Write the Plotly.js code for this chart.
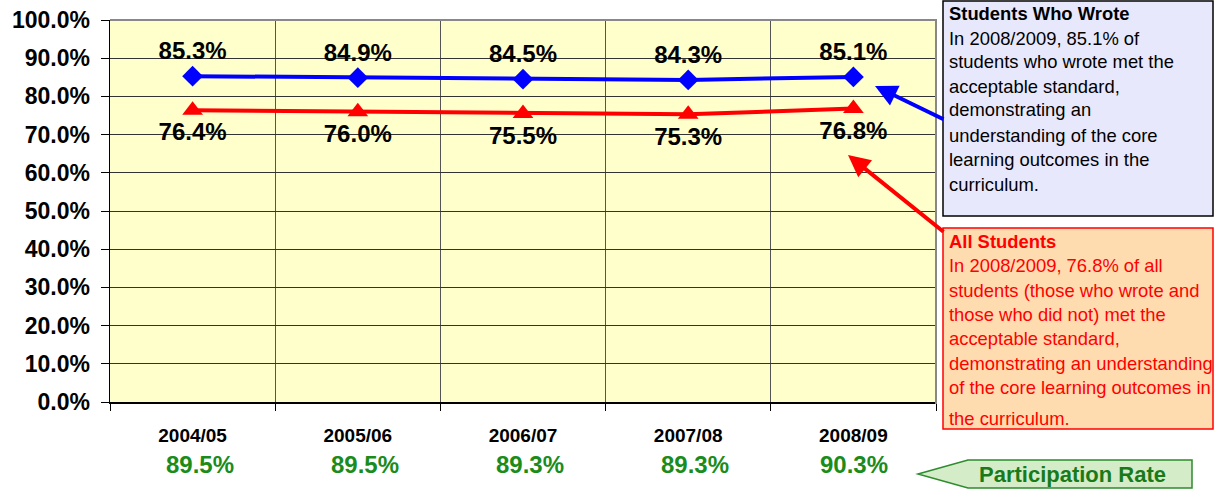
<!DOCTYPE html>
<html>
<head>
<meta charset="utf-8">
<script src="https://cdn.plot.ly/plotly-3.0.1.min.js"></script>
<style>html,body{margin:0;padding:0;background:#fff;}#chart{width:1214px;height:490px;}</style>
</head>
<body>
<div id="chart"></div>
<script>
const years = ['2004/05', '2005/06', '2006/07', '2007/08', '2008/09'];
const wroteRates = [0.853, 0.849, 0.845, 0.843, 0.851];
const allRates = [0.764, 0.760, 0.755, 0.753, 0.768];
const participation = ['89.5%', '89.5%', '89.3%', '89.3%', '90.3%'];
const wroteLines = [
  '<b>Students Who Wrote</b>',
  'In 2008/2009, 85.1% of',
  'students who wrote met the',
  'acceptable standard,',
  'demonstrating an',
  'understanding of the core',
  'learning outcomes in the',
  'curriculum.'
];
const allLines = [
  '<b>All Students</b>',
  'In 2008/2009, 76.8% of all',
  'students (those who wrote and',
  'those who did not) met the',
  'acceptable standard,',
  'demonstrating an understanding',
  'of the core learning outcomes in',
  'the curriculum.'
];
const participationLabel = 'Participation Rate';

// pixel helpers (plot area: x 110-936, y 20-402)
const L = 110, R = 936, T = 20, B = 402;
const px = x => (x - L) / (R - L);
const py = y => (B - y) / (B - T);

const FONT = 'Arial, "Liberation Sans", sans-serif';

const traces = [
  {
    x: years, y: wroteRates, type: 'scatter', mode: 'lines+markers+text',
    line: {color: '#0000ff', width: 4},
    marker: {symbol: 'diamond', size: 16, color: '#0000ff'},
    texttemplate: '%{y:.1%}', textposition: 'top center',
    textfont: {family: FONT, size: 24, color: '#000', weight: 'bold'},
    hoverinfo: 'none', cliponaxis: false
  },
  {
    x: years, y: allRates, type: 'scatter', mode: 'lines+markers+text',
    line: {color: '#ff0000', width: 4},
    marker: {symbol: 'triangle-up', size: 18, color: '#ff0000'},
    texttemplate: '%{y:.1%}', textposition: 'bottom center',
    textfont: {family: FONT, size: 24, color: '#000', weight: 'bold'},
    hoverinfo: 'none', cliponaxis: false
  }
];

const annotations = [];
const partShift = [7, 7, 7, 7, 1];
participation.forEach((p, i) => {
  annotations.push({
    x: years[i], xref: 'x', y: py(464), yref: 'paper', text: '<b>' + p + '</b>',
    showarrow: false, xanchor: 'center', yanchor: 'middle', xshift: partShift[i],
    font: {family: FONT, size: 24, color: '#1a8c1a'}
  });
});
const wroteY = [14, 38, 62, 86, 110, 135, 159, 184];
wroteLines.forEach((t, i) => {
  annotations.push({
    x: px(947), xref: 'paper', y: py(wroteY[i]), yref: 'paper', text: t,
    showarrow: false, xanchor: 'left', yanchor: 'middle', align: 'left',
    font: {family: FONT, size: 18.4, color: '#000'}
  });
});
const allY = [241, 265, 290, 314, 338, 363, 387, 418];
allLines.forEach((t, i) => {
  annotations.push({
    x: px(947), xref: 'paper', y: py(allY[i]), yref: 'paper', text: t,
    showarrow: false, xanchor: 'left', yanchor: 'middle', align: 'left',
    font: {family: FONT, size: 18.4, color: '#ff0000'}
  });
});
annotations.push({
  x: px(1072), xref: 'paper', y: py(474), yref: 'paper', text: '<b>' + participationLabel + '</b>',
  showarrow: false, xanchor: 'center', yanchor: 'middle',
  font: {family: FONT, size: 22, color: '#1a7a1a'}
});
// arrows
annotations.push({
  x: px(875), y: py(86), xref: 'paper', yref: 'paper', ax: 70, ay: 34, text: '',
  showarrow: true, arrowhead: 2, arrowsize: 1.1, arrowwidth: 4, arrowcolor: '#0000ff'
});
annotations.push({
  x: px(848), y: py(155), xref: 'paper', yref: 'paper', ax: 97, ay: 78, text: '',
  showarrow: true, arrowhead: 2, arrowsize: 1.1, arrowwidth: 4, arrowcolor: '#ff0000'
});

const shapes = [
  // top and right gray border of plot area
  {type: 'path', xref: 'paper', yref: 'paper',
   path: `M 0 1 L 1 1 L 1 ${py(404)}`, line: {color: '#888', width: 2}},
  // Students who wrote box
  {type: 'rect', xref: 'paper', yref: 'paper', x0: px(943), x1: px(1213), y0: py(1), y1: py(216),
   fillcolor: '#e8e8fc', line: {color: '#000', width: 1.5}, layer: 'below'},
  // All students box
  {type: 'rect', xref: 'paper', yref: 'paper', x0: px(943), x1: px(1213), y0: py(228), y1: py(429),
   fillcolor: '#ffdcb0', line: {color: '#ff0000', width: 1.5}, layer: 'below'},
  // participation arrow
  {type: 'path', xref: 'paper', yref: 'paper',
   path: `M ${px(918)} ${py(474)} L ${px(968)} ${py(460)} L ${px(1192)} ${py(460)} L ${px(1192)} ${py(488)} L ${px(968)} ${py(488)} Z`,
   fillcolor: '#d4ecc8', line: {color: '#2e8b2e', width: 1.5}, layer: 'below'}
];

const layout = {
  width: 1214, height: 490,
  margin: {l: L, r: 1214 - R, t: T, b: 490 - B},
  paper_bgcolor: '#ffffff', plot_bgcolor: '#ffffcc',
  showlegend: false,
  xaxis: {
    type: 'category', range: [-0.5, 4.5], tickson: 'boundaries',
    ticks: 'outside', ticklen: 7, tickcolor: '#000',
    showgrid: true, gridcolor: '#555', gridwidth: 1,
    showline: true, linecolor: '#000', linewidth: 1.5,
    tickfont: {family: FONT, size: 19, color: '#000', weight: 'bold'},
    ticklabelstandoff: 16, fixedrange: true
  },
  yaxis: {
    range: [0, 1], dtick: 0.1, tickformat: '.1%',
    ticks: 'outside', ticklen: 8, tickcolor: '#000',
    showgrid: true, gridcolor: '#333', gridwidth: 1,
    showline: true, linecolor: '#000', linewidth: 1.5, zeroline: false,
    tickfont: {family: FONT, size: 23, color: '#000', weight: 'bold'},
    ticklabelstandoff: 6, fixedrange: true
  },
  annotations: annotations,
  shapes: shapes
};

Plotly.newPlot('chart', traces, layout, {displayModeBar: false, staticPlot: true});
</script>
</body>
</html>
